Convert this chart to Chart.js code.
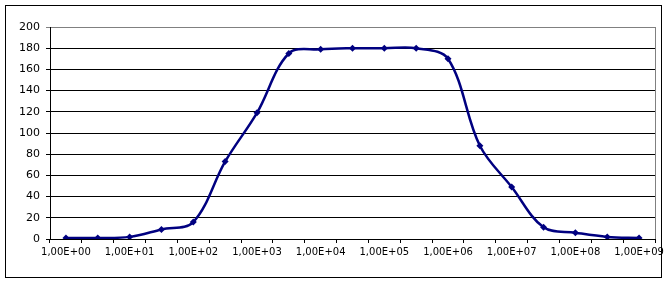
<!DOCTYPE html>
<html lang="en">
<head>
    <meta charset="UTF-8">
    <title>Log sweep response</title>
    <script src="https://cdn.jsdelivr.net/npm/chart.js@4/dist/chart.umd.min.js"></script>
    <style>
        body { margin: 0; background: #ffffff; }
        .wrap { width: 671px; height: 283px; position: relative; }
    </style>
</head>
<body>
    <div class="wrap">
        <canvas id="sweepChart"></canvas>
    </div>

    <script>
        // categories are half-decade steps, only whole decades get a label
        const categories = [
            '1,00E+00', '3,16E+00', '1,00E+01', '3,16E+01', '1,00E+02', '3,16E+02',
            '1,00E+03', '3,16E+03', '1,00E+04', '3,16E+04', '1,00E+05', '3,16E+05',
            '1,00E+06', '3,16E+06', '1,00E+07', '3,16E+07', '1,00E+08', '3,16E+08',
            '1,00E+09'
        ];
        const values = [1, 1, 2, 9, 16, 73, 119, 175, 179, 180, 180, 180, 170, 88, 49, 11, 6, 2, 1];
        const yTicks = [0, 20, 40, 60, 80, 100, 120, 140, 160, 180, 200];

        // outer chart frame + gray plot border (right side), Excel style
        const frame = {
            id: 'frame',
            afterDraw(chart) {
                const c = chart.ctx;
                const a = chart.chartArea;
                c.save();
                c.strokeStyle = '#000000';
                c.lineWidth = 1;
                c.strokeRect(5.5, 5.5, 656, 272);
                c.strokeStyle = '#808080';
                c.beginPath();
                c.moveTo(Math.round(a.right) + 0.5, Math.round(a.top));
                c.lineTo(Math.round(a.right) + 0.5, Math.round(a.bottom));
                c.stroke();
                c.restore();
            }
        };

        const ctx = document.getElementById('sweepChart').getContext('2d');
        new Chart(ctx, {
            type: 'line',
            data: {
                labels: categories,
                datasets: [{
                    data: values,
                    borderColor: '#000080',
                    backgroundColor: '#000080',
                    borderWidth: 2.5,
                    tension: 0.35,
                    pointStyle: 'rectRot',
                    pointRadius: 3.5,
                    pointBorderWidth: 0
                }]
            },
            options: {
                responsive: true,
                maintainAspectRatio: false,
                animation: false,
                layout: { padding: { top: 27, right: 16, left: 0, bottom: 0 } },
                plugins: {
                    legend: { display: false },
                    tooltip: { enabled: false }
                },
                scales: {
                    x: {
                        type: 'category',
                        offset: true,
                        grid: {
                            offset: true,
                            drawOnChartArea: false,
                            drawTicks: true,
                            tickLength: 4,
                            color: '#000000'
                        },
                        border: { color: '#000000' },
                        ticks: {
                            autoSkip: false,
                            maxRotation: 0,
                            padding: 3,
                            color: '#000000',
                            font: { family: 'DejaVu Sans', size: 10 },
                            callback: (v, i) => (i % 2 === 0 ? categories[i] : '')
                        },
                        afterFit: (s) => { s.height = 44; }
                    },
                    y: {
                        min: 0,
                        max: 200,
                        afterBuildTicks: (s) => { s.ticks = yTicks.map(v => ({ value: v })); },
                        grid: {
                            color: (c) => (c.tick && c.tick.value === 200 ? '#808080' : '#000000'),
                            tickLength: 4
                        },
                        border: { color: '#000000' },
                        ticks: {
                            padding: 6,
                            color: '#000000',
                            font: { family: 'DejaVu Sans', size: 11 }
                        },
                        afterFit: (s) => { s.width = 50; }
                    }
                }
            },
            plugins: [frame]
        });
    </script>
</body>
</html>
